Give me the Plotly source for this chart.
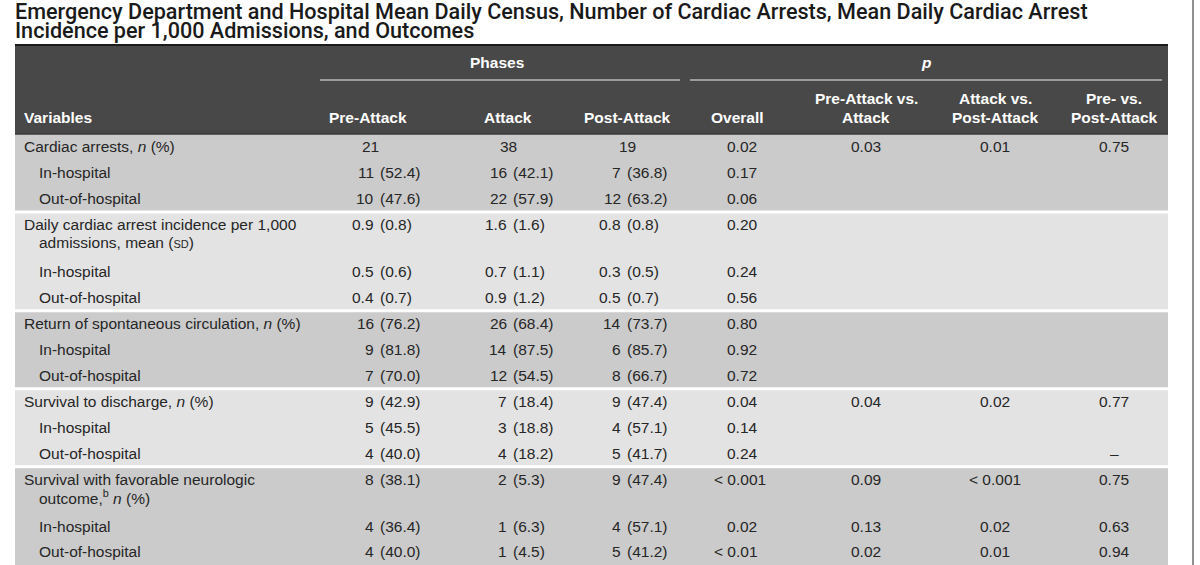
import plotly.graph_objects as go

# ---- table content ----
title_lines = [
    "Emergency Department and Hospital Mean Daily Census, Number of Cardiac Arrests, Mean Daily Cardiac Arrest",
    "Incidence per 1,000 Admissions, and Outcomes",
]

phase_headers = ["Pre-Attack", "Attack", "Post-Attack"]
p_headers = ["Overall", "Pre-Attack vs.|Attack", "Attack vs.|Post-Attack", "Pre- vs.|Post-Attack"]

variables = [
    "Cardiac arrests, <i>n</i> (%)",
    "In-hospital",
    "Out-of-hospital",
    "Daily cardiac arrest incidence per 1,000|admissions, mean (<span style='font-size:11px'>SD</span>)",
    "In-hospital",
    "Out-of-hospital",
    "Return of spontaneous circulation, <i>n</i> (%)",
    "In-hospital",
    "Out-of-hospital",
    "Survival to discharge, <i>n</i> (%)",
    "In-hospital",
    "Out-of-hospital",
    "Survival with favorable neurologic|outcome,<sup>b</sup> <i>n</i> (%)",
    "In-hospital",
    "Out-of-hospital",
]
is_sub = [0, 1, 1, 0, 1, 1, 0, 1, 1, 0, 1, 1, 0, 1, 1]
groups = [0, 0, 0, 1, 1, 1, 2, 2, 2, 3, 3, 3, 4, 4, 4]

pre_attack = ["21", "11 (52.4)", "10 (47.6)", "0.9 (0.8)", "0.5 (0.6)", "0.4 (0.7)",
              "16 (76.2)", "9 (81.8)", "7 (70.0)", "9 (42.9)", "5 (45.5)", "4 (40.0)",
              "8 (38.1)", "4 (36.4)", "4 (40.0)"]
attack = ["38", "16 (42.1)", "22 (57.9)", "1.6 (1.6)", "0.7 (1.1)", "0.9 (1.2)",
          "26 (68.4)", "14 (87.5)", "12 (54.5)", "7 (18.4)", "3 (18.8)", "4 (18.2)",
          "2 (5.3)", "1 (6.3)", "1 (4.5)"]
post_attack = ["19", "7 (36.8)", "12 (63.2)", "0.8 (0.8)", "0.3 (0.5)", "0.5 (0.7)",
               "14 (73.7)", "6 (85.7)", "8 (66.7)", "9 (47.4)", "4 (57.1)", "5 (41.7)",
               "9 (47.4)", "4 (57.1)", "5 (41.2)"]
p_overall = ["0.02", "0.17", "0.06", "0.20", "0.24", "0.56", "0.80", "0.92", "0.72",
             "0.04", "0.14", "0.24", "< 0.001", "0.02", "< 0.01"]
p_pre_vs_attack = ["0.03", "", "", "", "", "", "", "", "", "0.04", "", "", "0.09", "0.13", "0.02"]
p_attack_vs_post = ["0.01", "", "", "", "", "", "", "", "", "0.02", "", "", "< 0.001", "0.02", "0.01"]
p_pre_vs_post = ["0.75", "", "", "", "", "", "", "", "", "0.77", "", "–", "0.75", "0.63", "0.94"]

# ---- layout (pixels) ----
W, H = 1200, 565
TL, TR = 15, 1168
HEAD_T, HEAD_B = 45, 134
ROW_H, ROW_H2, GAP = 25.8, 46.5, 0.6
LINE2 = 17.5

BODY_FONT = "Liberation Sans, Arial, sans-serif"
TITLE_FONT = "Roboto, Liberation Sans, sans-serif"
TXT = "#262626"
HEAD_BG = "#484848"
BANDS = ["#cbcbcb", "#e3e3e3"]

phase_paren_x = [374.5, 507.5, 621.5]   # right edge of the count
phase_center_x = [370, 508, 627]
overall_x = 726
p_center_x = [866, 995, 1114]
head_center_x = [368, 508, 627, 737, 866, 995, 1114]

fig = go.Figure()


def add_text(x, y, text, anchor="left", size=15.5, color=TXT, bold=False, family=BODY_FONT, weight=None):
    fig.add_annotation(
        x=x, y=y, xref="x", yref="y", text=text, showarrow=False,
        xanchor=anchor, yanchor="middle", borderpad=0,
        font=dict(family=family, size=size, color=color,
                  weight=weight if weight else ("bold" if bold else "normal")),
    )


def add_head(x, y, text, anchor="center"):
    add_text(x, y, text, anchor, size=15.5, color="white", bold=True)


def add_phase_value(col, y, s):
    if " (" in s:
        a, b = s.split(" (", 1)
        add_text(phase_paren_x[col], y, a, "right")
        add_text(phase_paren_x[col] + 4.3, y, "(" + b, "left")
    else:
        add_text(phase_center_x[col], y, s, "center")


# title
add_text(14, 11, title_lines[0], size=21.6, color="#1a1a1a", family=TITLE_FONT, weight=500)
add_text(14, 30, title_lines[1], size=21.6, color="#1a1a1a", family=TITLE_FONT, weight=500)

# header block
fig.add_shape(type="rect", xref="x", yref="y", x0=TL, x1=TR, y0=HEAD_T, y1=HEAD_B,
              fillcolor=HEAD_BG, line_width=0, layer="below")
fig.add_shape(type="line", xref="x", yref="y", x0=TL, x1=TR, y0=HEAD_T, y1=HEAD_T,
              line=dict(color="#1c1c1c", width=2))
fig.add_shape(type="line", xref="x", yref="y", x0=320, x1=680, y0=80, y1=80,
              line=dict(color="#b8b8b8", width=1.5))
fig.add_shape(type="line", xref="x", yref="y", x0=690, x1=1162, y0=80, y1=80,
              line=dict(color="#b8b8b8", width=1.5))
add_head(497, 62, "Phases")
add_head(926, 62, "<i>p</i>")
add_head(23, 117, "Variables", "left")
for hx, lab in zip(head_center_x, phase_headers + p_headers):
    parts = lab.split("|")
    if len(parts) == 1:
        add_head(hx, 117, parts[0])
    else:
        add_head(hx, 98, parts[0])
        add_head(hx, 117, parts[1])

# row positions
tops, bottoms = [], []
y = HEAD_B
for i, lab in enumerate(variables):
    if i > 0 and groups[i] != groups[i - 1]:
        y += GAP
    tops.append(y)
    y += ROW_H2 if "|" in lab else ROW_H
    bottoms.append(y)

# group bands + white separators
for g in sorted(set(groups)):
    idx = [i for i, gg in enumerate(groups) if gg == g]
    y0 = tops[idx[0]]
    y1 = bottoms[idx[-1]] if g != groups[-1] else H
    fig.add_shape(type="rect", xref="x", yref="y", x0=TL, x1=TR, y0=y0, y1=y1,
                  fillcolor=BANDS[g % 2], line_width=0, layer="below")
    if g > 0:
        fig.add_shape(type="line", xref="x", yref="y", x0=TL, x1=TR, y0=y0, y1=y0,
                      line=dict(color="white", width=3))
fig.add_shape(type="line", xref="x", yref="y", x0=TL, x1=TR, y0=HEAD_B, y1=HEAD_B,
              line=dict(color="#3a3a3a", width=1.5))

# body cells
for i, lab in enumerate(variables):
    yc = tops[i] + ROW_H / 2
    parts = lab.split("|")
    add_text(38 if is_sub[i] else 23, yc, parts[0])
    if len(parts) > 1:
        add_text(38, yc + LINE2, parts[1])
    for col, vals in enumerate([pre_attack, attack, post_attack]):
        add_phase_value(col, yc, vals[i])
    s = p_overall[i]
    add_text(overall_x - 13.5 if s.startswith("<") else overall_x, yc, s)
    for cx, vals in zip(p_center_x, [p_pre_vs_attack, p_attack_vs_post, p_pre_vs_post]):
        if vals[i]:
            add_text(cx, yc, vals[i], "center")

# page edge rule on the right
fig.add_shape(type="line", xref="x", yref="y", x0=1193, x1=1193, y0=0, y1=H,
              line=dict(color="#222222", width=1))

fig.update_xaxes(range=[0, W], visible=False, fixedrange=True)
fig.update_yaxes(range=[H, 0], visible=False, fixedrange=True)
fig.update_layout(
    width=W, height=H,
    margin=dict(l=0, r=0, t=0, b=0),
    paper_bgcolor="white", plot_bgcolor="white",
    showlegend=False,
)

# drop the page's default body margin so the figure fills the window exactly
fig.write_html("out.html", config={"displayModeBar": False},
               post_script="document.body.style.margin = '0';")
